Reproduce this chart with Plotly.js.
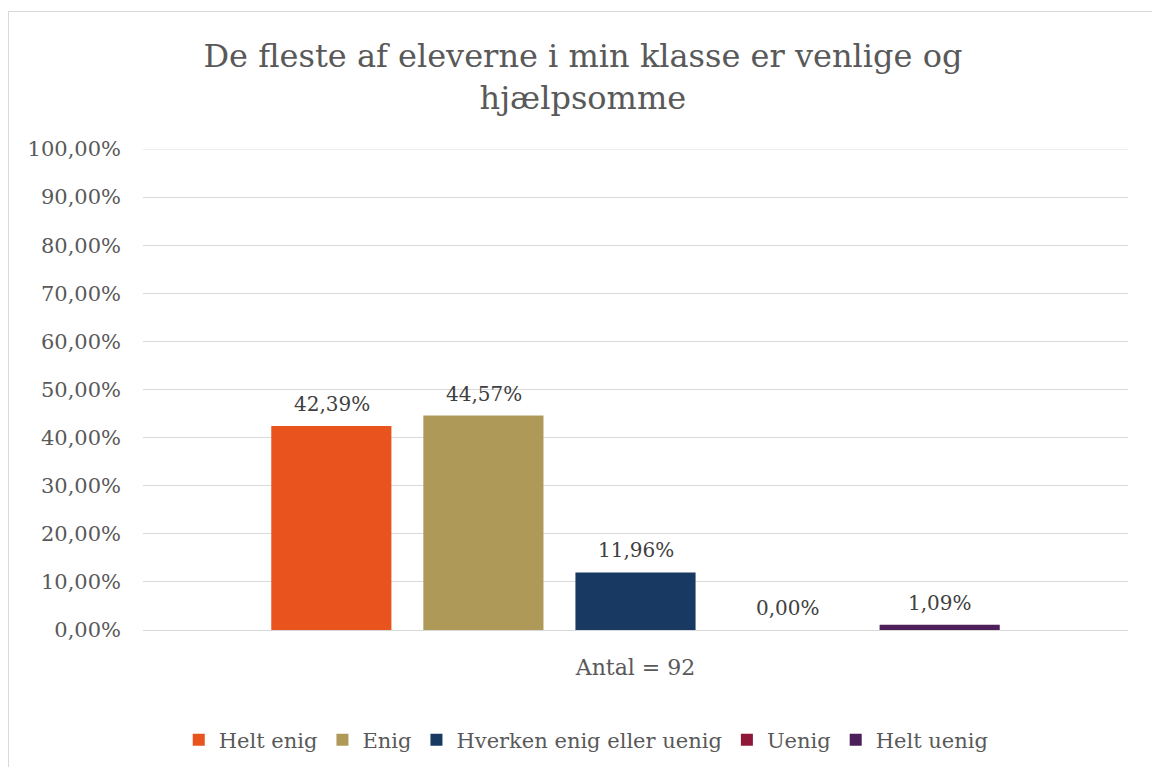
<!DOCTYPE html>
<html>
<head>
<meta charset="utf-8">
<script src="https://cdn.plot.ly/plotly-3.0.1.min.js"></script>
<style>
  html, body { margin: 0; padding: 0; overflow: hidden; background: #fff; }
  #frame { position: absolute; left: 8px; top: 11px; width: 1200px; height: 800px; border: 1px solid #d9d9d9; box-sizing: border-box; }
  #chart { position: absolute; left: 0; top: 0; width: 1152px; height: 767px; }
</style>
</head>
<body>
<div id="frame"></div>
<div id="chart"></div>
<script>
const category = ["Antal = 92"];
const seriesNames = ["Helt enig", "Enig", "Hverken enig eller uenig", "Uenig", "Helt uenig"];
const seriesValues = [42.39, 44.57, 11.96, 0.00, 1.09];
const seriesColors = ["#E8531E", "#AF9959", "#183961", "#8F1737", "#4C1E5A"];
const tickValues = [0, 10, 20, 30, 40, 50, 60, 70, 80, 90, 100];
const tickLabels = ["0,00%", "10,00%", "20,00%", "30,00%", "40,00%", "50,00%", "60,00%", "70,00%", "80,00%", "90,00%", "100,00%"];

const fmt = v => v.toFixed(2).replace('.', ',') + '%';
const FONT = "'DejaVu Serif', Georgia, serif";
const SLOT = 152; // px between grouped bar centres

const traces = seriesNames.map((name, i) => ({
  type: 'bar',
  name: name,
  x: category,
  y: [seriesValues[i]],
  marker: { color: seriesColors[i] },
  hoverinfo: 'none'
}));

const annotations = seriesValues.map((v, i) => ({
  x: category[0],
  y: v,
  xref: 'x', yref: 'y',
  text: fmt(v),
  showarrow: false,
  xanchor: 'center',
  yanchor: 'bottom',
  xshift: (i - (seriesValues.length - 1) / 2) * SLOT,
  yshift: 8,
  font: { family: FONT, size: 20, color: '#404040' }
}));

const yMax = tickValues[tickValues.length - 1];

const layout = {
  width: 1152,
  height: 767,
  autosize: false,
  paper_bgcolor: 'rgba(0,0,0,0)',
  plot_bgcolor: 'rgba(0,0,0,0)',
  margin: { l: 143, r: 24, t: 149, b: 137, autoexpand: false },
  title: {
    text: 'De fleste af eleverne i min klasse er venlige og<br>hjælpsomme',
    font: { family: FONT, size: 32, color: '#595959' },
    x: 0.506, xanchor: 'center', xref: 'container',
    y: 0.912, yanchor: 'middle', yref: 'container'
  },
  barmode: 'group',
  bargap: 0.228,
  bargroupgap: 0.21,
  xaxis: {
    type: 'category',
    showgrid: false,
    showline: false,
    ticks: '',
    tickfont: { family: FONT, size: 22, color: '#595959' },
    ticklabelstandoff: 22
  },
  yaxis: {
    range: [0, yMax],
    tickvals: tickValues,
    ticktext: tickLabels,
    showgrid: true,
    gridcolor: '#d9d9d9',
    gridwidth: 1,
    zeroline: true,
    zerolinecolor: '#d9d9d9',
    zerolinewidth: 1,
    showline: false,
    ticks: '',
    ticklabelstandoff: 21,
    tickfont: { family: FONT, size: 21, color: '#595959' }
  },
  shapes: [{
    type: 'line', xref: 'paper', yref: 'y',
    x0: 0, x1: 1, y0: yMax, y1: yMax,
    line: { color: '#d9d9d9', width: 1 },
    layer: 'below'
  }],
  annotations: annotations,
  showlegend: true,
  legend: {
    orientation: 'h',
    x: 0.45, xanchor: 'center',
    y: -0.229, yanchor: 'middle',
    font: { family: FONT, size: 21, color: '#595959' },
    traceorder: 'normal'
  },
  font: { family: FONT, color: '#595959' }
};

Plotly.newPlot('chart', traces, layout, { displayModeBar: false, staticPlot: true });
</script>
</body>
</html>
